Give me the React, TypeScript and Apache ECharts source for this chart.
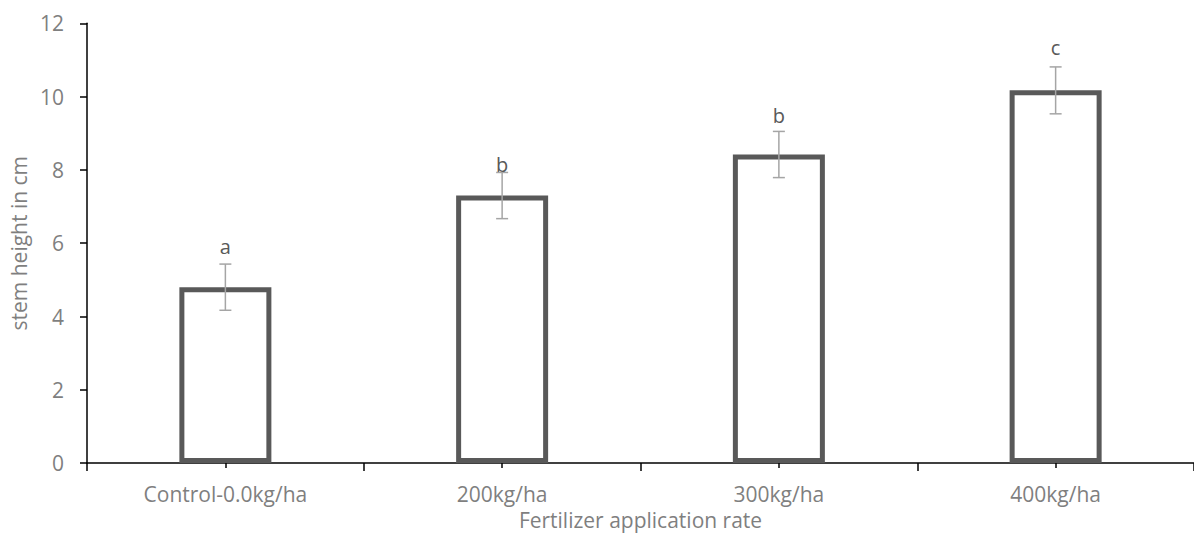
import React, { useEffect, useRef } from "react";
import * as echarts from "echarts";

const categories = ["Control-0.0kg/ha", "200kg/ha", "300kg/ha", "400kg/ha"];
const stemHeight = [4.8, 7.3, 8.42, 10.17];
const errorHalf = [0.63, 0.63, 0.63, 0.64];
const letters = ["a", "b", "b", "c"];
const letterPos = [5.64, 7.87, 9.22, 11.07];
const yTicks = { min: 0, max: 12, interval: 2 };

const FONT = "'Open Sans', sans-serif";
const GRAY = "#7f7f7f";

export default function App() {
  const ref = useRef<HTMLDivElement>(null);
  useEffect(() => {
    if (!ref.current) return;
    const chart = echarts.init(ref.current, undefined, { renderer: "svg" });
    const errData = categories.map((_, i) => [i, stemHeight[i] - errorHalf[i], stemHeight[i] + errorHalf[i]]);
    const letterData = categories.map((_, i) => [i, letterPos[i]]);
    chart.setOption({
      animation: false,
      backgroundColor: "#fff",
      grid: { left: 87, top: 23.3, right: -8, bottom: 63, containLabel: false },
      xAxis: [
        {
          type: "category",
          data: categories,
          position: "bottom",
          axisLine: { show: true, lineStyle: { color: "#000", width: 1.5 } },
          axisTick: { show: true, alignWithLabel: false, length: 8, lineStyle: { color: "#000", width: 1.5 } },
          axisLabel: { color: GRAY, fontSize: 21, fontFamily: FONT, margin: 20 },
          name: "Fertilizer application rate",
          nameLocation: "middle",
          nameGap: 40,
          nameTextStyle: { color: GRAY, fontSize: 21, fontFamily: FONT },
          splitLine: { show: false },
        },
        {
          type: "category",
          data: categories,
          position: "bottom",
          axisLine: { show: false },
          axisTick: { show: true, alignWithLabel: true, length: 5, lineStyle: { color: "#000", width: 1.5 } },
          axisLabel: { show: false },
          splitLine: { show: false },
        },
      ],
      yAxis: {
        type: "value",
        min: yTicks.min,
        max: yTicks.max,
        interval: yTicks.interval,
        axisLine: { show: true, lineStyle: { color: "#000", width: 1.5 } },
        axisTick: { show: true, length: 7, lineStyle: { color: "#000", width: 1.5 } },
        axisLabel: { color: GRAY, fontSize: 21, fontFamily: FONT, margin: 23 },
        splitLine: { show: false },
        name: "stem height in cm",
        nameLocation: "middle",
        nameRotate: 90,
        nameGap: 56,
        nameTextStyle: { color: GRAY, fontSize: 21, fontFamily: FONT },
      },
      series: [
        {
          type: "bar",
          data: stemHeight,
          xAxisIndex: 0,
          barWidth: 92,
          itemStyle: { color: "#fff", borderColor: "#595959", borderWidth: 5 },
          z: 2,
        },
        {
          type: "custom",
          xAxisIndex: 0,
          data: errData,
          z: 3,
          renderItem: (params: any, api: any) => {
            const top = api.coord([api.value(0), api.value(2)]);
            const bot = api.coord([api.value(0), api.value(1)]);
            const x = top[0];
            const hw = 6;
            const style = { stroke: "#a5a5a5", lineWidth: 1.5 };
            return {
              type: "group",
              children: [
                { type: "line", shape: { x1: x, y1: top[1], x2: x, y2: bot[1] }, style },
                { type: "line", shape: { x1: x - hw, y1: top[1], x2: x + hw, y2: top[1] }, style },
                { type: "line", shape: { x1: x - hw, y1: bot[1], x2: x + hw, y2: bot[1] }, style },
              ],
            };
          },
        },
        {
          type: "custom",
          xAxisIndex: 0,
          data: letterData,
          z: 4,
          renderItem: (params: any, api: any) => {
            const p = api.coord([api.value(0), api.value(1)]);
            return {
              type: "text",
              x: p[0],
              y: p[1],
              style: {
                text: letters[params.dataIndex],
                fill: "#595959",
                font: `20px ${FONT}`,
                align: "center",
                verticalAlign: "bottom",
              },
            };
          },
        },
      ],
    });
    return () => chart.dispose();
  }, []);
  return <div ref={ref} style={{ position: "absolute", left: 0, top: 0, width: 1194, height: 535 }} />;
}
